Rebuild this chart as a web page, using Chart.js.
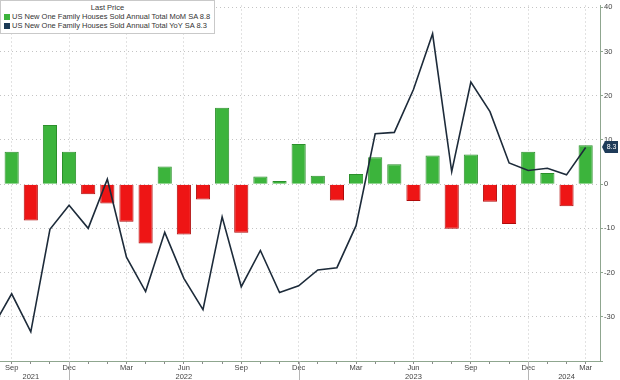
<!DOCTYPE html>
<html><head><meta charset="utf-8">
<script src="https://cdn.jsdelivr.net/npm/chart.js@4/dist/chart.umd.min.js"></script>
<style>
html,body{margin:0;padding:0;background:#fff;}
#wrap{position:relative;width:620px;height:380px;}
canvas{display:block;}
#legend{position:absolute;left:0;top:0;width:215px;height:34px;background:#fff;border:1px solid #c9c9c9;box-sizing:border-box;font-family:"Liberation Sans",Arial,sans-serif;font-size:7.5px;color:#333;line-height:9px;}
#legend .hd{text-align:center;padding-top:2px;}
#legend .row{padding-left:3px;white-space:nowrap;}
#legend .sw{display:inline-block;width:6px;height:6px;margin-right:2px;vertical-align:-1px;}
</style></head>
<body>
<div id="wrap">
<canvas id="c" width="620" height="380"></canvas>
<div id="legend">
<div class="hd">Last Price</div>
<div class="row"><span class="sw" style="background:#3cb43c"></span>US New One Family Houses Sold Annual Total MoM SA 8.8</div>
<div class="row"><span class="sw" style="background:#1c3a56"></span>US New One Family Houses Sold Annual Total YoY SA 8.3</div>
</div>
</div>
<script>
const categories = ['Aug 2021','Sep 2021','Oct 2021','Nov 2021','Dec 2021',
 'Jan 2022','Feb 2022','Mar 2022','Apr 2022','May 2022','Jun 2022','Jul 2022','Aug 2022','Sep 2022','Oct 2022','Nov 2022','Dec 2022',
 'Jan 2023','Feb 2023','Mar 2023','Apr 2023','May 2023','Jun 2023','Jul 2023','Aug 2023','Sep 2023','Oct 2023','Nov 2023','Dec 2023',
 'Jan 2024','Feb 2024','Mar 2024'];
const momValues = [null, 7.3, -8.2, 13.4, 7.3,
 -2.3, -4.4, -8.5, -13.4, 4.0, -11.4, -3.5, 17.3, -11.0, 1.7, 0.7, 9.1,
 1.9, -3.7, 2.3, 6.1, 4.5, -3.8, 6.5, -10.1, 6.7, -4.0, -9.0, 7.3,
 2.5, -5.0, 8.8];
const yoyValues = [-32.4, -24.8, -33.4, -10.2, -4.8,
 -10.0, 1.1, -16.5, -24.3, -10.9, -21.3, -28.4, -7.4, -23.2, -15.0, -24.5, -23.0,
 -19.4, -18.9, -9.4, 11.4, 11.7, 21.4, 34.0, 2.8, 23.1, 16.4, 4.8, 3.1,
 3.6, 2.1, 8.3];
const xTickMonths = ['Sep','Dec','Mar','Jun','Sep','Dec','Mar','Jun','Sep','Dec','Mar'];
const yearLabels = ['2021','2022','2023','2024'];
const yearLabelAt = ['Oct 2021','Jun 2022','Jun 2023','Feb 2024'];
const yTicks = [-40,-30,-20,-10,0,10,20,30,40];

const FONT = '"Liberation Sans", Arial, sans-serif';
const isQuarter = i => i % 3 === 1;

const barData = momValues.map((v,i)=>({x:i,y:v}));
const lineData = yoyValues.map((v,i)=>({x:i,y:v}));

const extras = {
  id:'extras',
  afterDraw(chart){
    const ctx = chart.ctx, xs = chart.scales.x, ys = chart.scales.y, ca = chart.chartArea;
    ctx.save();
    ctx.strokeStyle = '#b5b5b5'; ctx.lineWidth = 1;
    categories.forEach((c,i)=>{
      if (c.startsWith('Dec')) {
        const x = Math.round(xs.getPixelForValue(i)) + 0.5;
        ctx.beginPath(); ctx.moveTo(x, ca.bottom); ctx.lineTo(x, 380); ctx.stroke();
      }
    });
    const v = yoyValues[yoyValues.length-1];
    const y = Math.round(ys.getPixelForValue(v));
    const x0 = ca.right + 2;
    ctx.fillStyle = '#1e3b59';
    ctx.beginPath();
    ctx.moveTo(x0, y);
    ctx.lineTo(x0+3, y-6);
    ctx.lineTo(x0+16, y-6);
    ctx.lineTo(x0+16, y+6);
    ctx.lineTo(x0+3, y+6);
    ctx.closePath(); ctx.fill();
    ctx.fillStyle = '#fff';
    ctx.font = '7px ' + FONT;
    ctx.textAlign = 'center'; ctx.textBaseline = 'middle';
    ctx.fillText(v.toFixed(1), x0+9.5, y+0.5);
    ctx.restore();
  }
};

new Chart(document.getElementById('c'), {
  type: 'line',
  data: {
    datasets: [
      { type:'line', label:'YoY', data: lineData, borderColor:'#1d2b3a', borderWidth:1.6,
        pointRadius:0, tension:0, fill:false, order:0 },
      { type:'bar', label:'MoM', data: barData,
        backgroundColor: momValues.map(v => v >= 0 ? '#3cb43c' : '#ee1515'),
        borderColor: momValues.map(v => v >= 0 ? '#2c8f2c' : '#b00a0a'),
        borderWidth: 1, barPercentage: 0.74, categoryPercentage: 1, order:1 }
    ]
  },
  options: {
    responsive:false, animation:false, devicePixelRatio:1,
    layout:{padding:0},
    plugins:{legend:{display:false}, tooltip:{enabled:false}},
    scales:{
      x:{
        type:'linear', min:0.39, max:31.75, offset:false,
        afterBuildTicks(s){ s.ticks = categories.map((c,i)=>({value:i})).filter(t => t.value >= 1); },
        afterFit(s){ s.height = 19; },
        grid:{ offset:false, drawOnChartArea:true,
          color: c => (c.tick && isQuarter(c.tick.value)) ? '#c4c4c4' : 'rgba(0,0,0,0)',
          tickColor:'#8a8a8a', tickLength:3, lineWidth:1 },
        border:{ display:true, color:'#8fa68f', width:1, dash:[1,3] },
        ticks:{ autoSkip:false, maxRotation:0, minRotation:0, padding:0,
          color:'#444', font:{family:FONT, size:7.5, lineHeight:1.15},
          callback(value){
            const i = Math.round(value);
            const m = isQuarter(i) ? xTickMonths[(i-1)/3] : '';
            const yi = yearLabelAt.indexOf(categories[i]);
            if (yi >= 0) return [m, yearLabels[yi]];
            return m;
          }
        }
      },
      y:{
        type:'linear', position:'right', min:-40, max:40.4,
        afterBuildTicks(s){ s.ticks = yTicks.map(v=>({value:v})); },
        afterFit(s){ s.width = 20; },
        grid:{ color:'#c4c4c4', tickColor:'#8fa68f', tickLength:3, lineWidth:1 },
        border:{ display:true, color:'#8fa68f', width:1, dash:[1,3] },
        ticks:{ padding:1, color:'#444', font:{family:FONT, size:7.5},
          callback(v){ return v === -40 ? '' : v; } }
      }
    }
  },
  plugins:[extras]
});
</script>
</body></html>
